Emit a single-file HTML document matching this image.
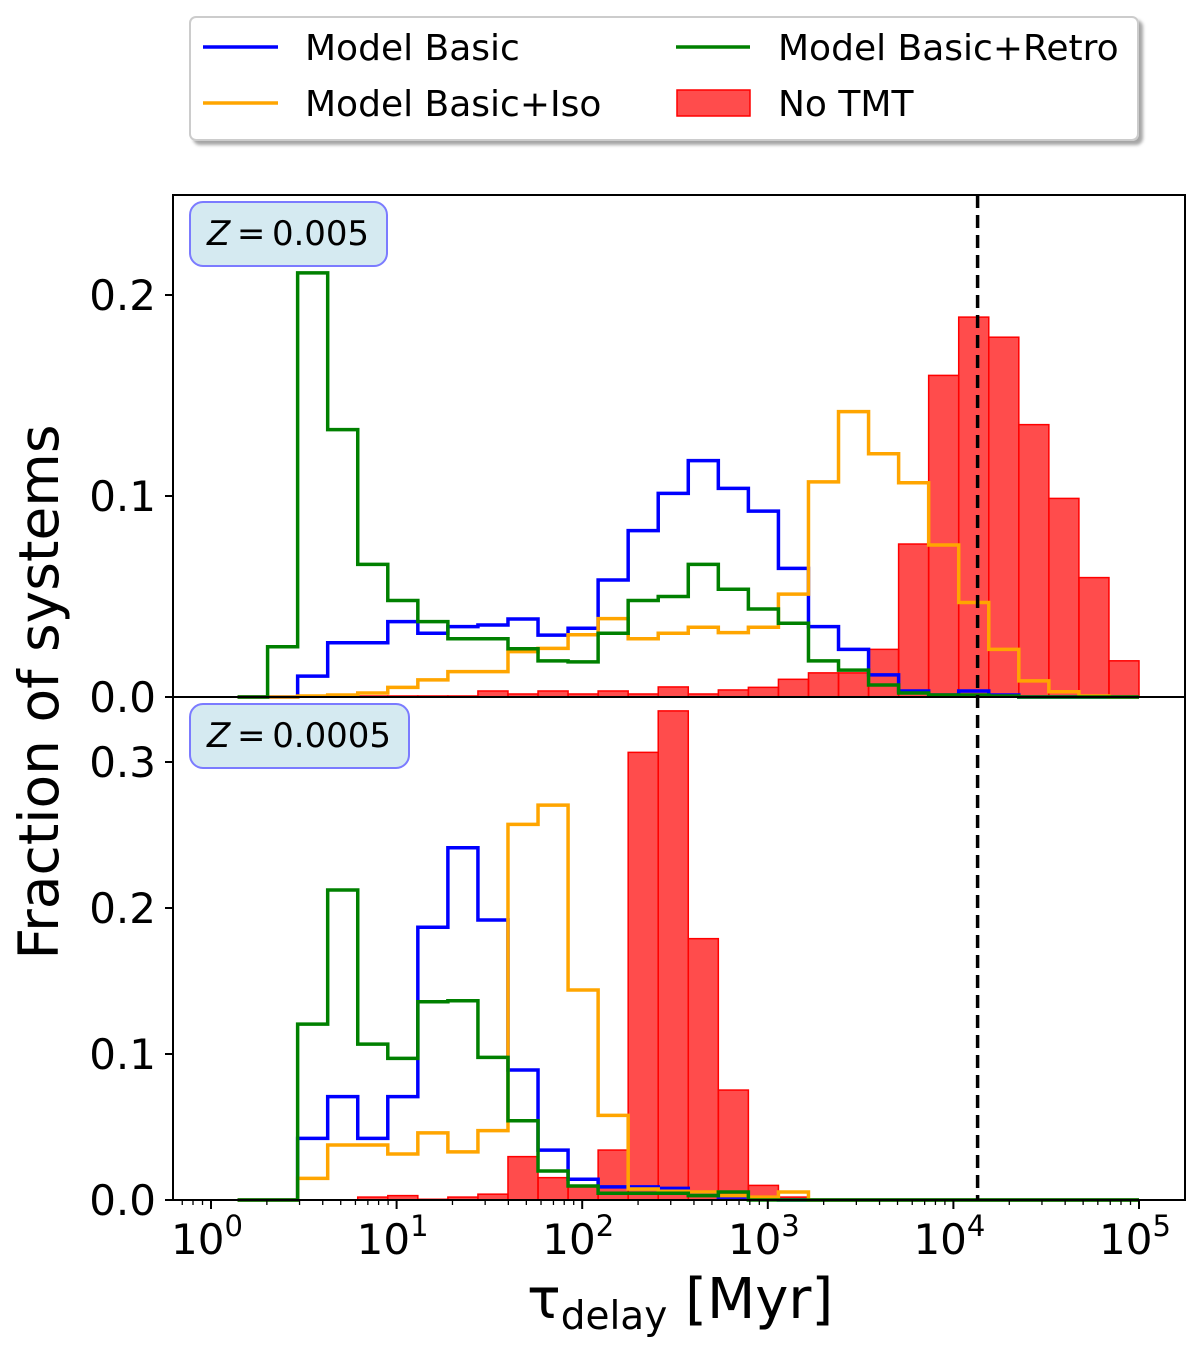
<!DOCTYPE html>
<html><head><meta charset="utf-8"><style>
html,body{margin:0;padding:0;background:#fff;}
svg{display:block;font-family:"DejaVu Sans","Liberation Sans",sans-serif;}
</style></head><body>
<svg id="chart" width="1200" height="1357" viewBox="0 0 1200 1357" xmlns="http://www.w3.org/2000/svg">
<defs><filter id="sh" x="-5%" y="-5%" width="110%" height="120%"><feDropShadow dx="4" dy="4" stdDeviation="1.5" flood-color="#000" flood-opacity="0.35"/></filter></defs>
<g id="legend">
<rect x="190" y="17" width="948" height="123" rx="6" fill="#fff" stroke="#ccc" stroke-width="2" filter="url(#sh)"/>
<g><line x1="203" y1="47" x2="278" y2="47" stroke="#0000ff" stroke-width="3.5"/><text x="305" y="60" font-size="36">Model Basic</text></g>
<g><line x1="203" y1="103" x2="278" y2="103" stroke="#ffa500" stroke-width="3.5"/><text x="305" y="116" font-size="36">Model Basic+Iso</text></g>
<g><line x1="676" y1="47" x2="750" y2="47" stroke="#008000" stroke-width="3.5"/><text x="778" y="60" font-size="36">Model Basic+Retro</text></g>
<g><rect x="677" y="90" width="73" height="26" fill="rgba(255,0,0,0.7)" stroke="#ff0000" stroke-width="1.5"/><text x="778" y="116" font-size="36">No TMT</text></g>
</g>
<g id="plot"></g>
</svg>
<script>
// ---- data (bin index 0..29, log-spaced bins ending at 1e5) ----
const binCount = 30;
const binWidthDex = 0.1619;
const topBlue   = [0,0,0.0104,0.027,0.027,0.0375,0.0317,0.035,0.0358,0.0388,0.0308,0.0342,0.0582,0.0828,0.1013,0.1176,0.1038,0.0925,0.064,0.035,0.0237,0.011,0.003,0.001,0.003,0.001,0,0,0,0];
const topGreen  = [0,0.025,0.211,0.133,0.066,0.048,0.0375,0.029,0.029,0.024,0.018,0.0175,0.0317,0.048,0.050,0.066,0.0536,0.0438,0.0367,0.018,0.0134,0.006,0.002,0.001,0.001,0.0005,0,0,0,0];
const topOrange = [0,0,0.0005,0.001,0.002,0.0048,0.0085,0.0126,0.0126,0.0226,0.0242,0.031,0.039,0.029,0.0317,0.0347,0.032,0.0347,0.0512,0.107,0.142,0.121,0.1066,0.0756,0.047,0.0237,0.008,0.0026,0.0005,0];
const topRed    = [0,0,0.0005,0.0005,0.0005,0.0005,0.0005,0.0005,0.003,0.0015,0.003,0.0015,0.003,0.0015,0.005,0.0015,0.0035,0.0048,0.0088,0.012,0.012,0.0237,0.0761,0.16,0.189,0.179,0.1355,0.0988,0.0594,0.018];
const botBlue   = [0,0,0.0422,0.0708,0.0422,0.0708,0.1868,0.2413,0.1918,0.089,0.0342,0.0142,0.009,0.009,0.008,0.004,0.002,0.001,0,0,0,0,0,0,0,0,0,0,0,0];
const botGreen  = [0,0,0.1205,0.2123,0.1068,0.097,0.1358,0.1365,0.0977,0.0543,0.0199,0.0096,0.0046,0.0046,0.0046,0.003,0.0055,0,0,0,0,0,0,0,0,0,0,0,0,0];
const botOrange = [0,0,0.0148,0.0377,0.0377,0.0315,0.046,0.033,0.0475,0.2573,0.2705,0.1438,0.058,0.0075,0.006,0.0055,0.003,0.002,0.0055,0,0,0,0,0,0,0,0,0,0,0];
const botRed    = [0,0,0,0,0.002,0.003,0.0005,0.002,0.004,0.0297,0.0153,0.009,0.0342,0.3066,0.335,0.179,0.0753,0.01,0.002,0,0,0,0,0,0,0,0,0,0,0];
const xTickExps = [0,1,2,3,4,5];
const topYTicks = [0.0,0.1,0.2];
const botYTicks = [0.0,0.1,0.2,0.3];
const hubbleTimeMyr = 13500;

// ---- axes ----
const NS="http://www.w3.org/2000/svg";
const L=173,R=1185,T1=195,B1=697,T2=697,B2=1200;
const X0=211,DEC=185.6;
function xs(logv){return X0+DEC*logv;}
function yTop(v){return B1-v*2010;}
function yBot(v){return B2-v*1460;}
function edgeLog(k){return 5-binWidthDex*(binCount-k);}
const plot=document.getElementById('plot');
function mk(tag,attrs,parent){const e=document.createElementNS(NS,tag);for(const k in attrs)e.setAttribute(k,attrs[k]);(parent||plot).appendChild(e);return e;}

function drawBars(vals,ys,name){
  const g=mk('g',{});
  
  
  vals.forEach((v,i)=>{ if(v<=0) return;
    const x1=xs(edgeLog(i)),x2=xs(edgeLog(i+1));
    const r=mk('rect',{x:x1,y:ys(v),width:x2-x1,height:ys(0)-ys(v),fill:'rgba(255,0,0,0.7)',stroke:'#ff0000','stroke-width':1.5},g);
    
    
  });
}
function drawStep(vals,ys,color,name){
  let d='M'+xs(edgeLog(0))+','+ys(0);
  vals.forEach((v,i)=>{d+=' L'+xs(edgeLog(i))+','+ys(v)+' L'+xs(edgeLog(i+1))+','+ys(v);});
  d+=' L'+xs(edgeLog(vals.length))+','+ys(0);
  const p=mk('path',{d:d,fill:'none',stroke:color,'stroke-width':3.5,'stroke-linejoin':'miter'});
  
  
}
drawBars(topRed,yTop,'top-no-tmt-bars');
drawStep(topBlue,yTop,'#0000ff','top-basic-line');
drawStep(topOrange,yTop,'#ffa500','top-iso-line');
drawStep(topGreen,yTop,'#008000','top-retro-line');
drawBars(botRed,yBot,'bottom-no-tmt-bars');
drawStep(botBlue,yBot,'#0000ff','bottom-basic-line');
drawStep(botOrange,yBot,'#ffa500','bottom-iso-line');
drawStep(botGreen,yBot,'#008000','bottom-retro-line');

const hl=mk('line',{x1:xs(Math.log10(hubbleTimeMyr)),x2:xs(Math.log10(hubbleTimeMyr)),y1:T1,y2:B2,stroke:'#000','stroke-width':3.5,'stroke-dasharray':'13,7'});



const f1=mk('rect',{x:L,y:T1,width:R-L,height:B1-T1,fill:'none',stroke:'#000','stroke-width':2});


const f2=mk('rect',{x:L,y:T2,width:R-L,height:B2-T2,fill:'none',stroke:'#000','stroke-width':2});



function yTicks(arr,ys,name){
  arr.forEach(v=>{
    mk('line',{x1:L-8,x2:L,y1:ys(v),y2:ys(v),stroke:'#000','stroke-width':2});
    const t=mk('text',{x:L-17,y:ys(v)+15,'text-anchor':'end','font-size':42});
    t.textContent=v.toFixed(1);
    
    
  });
}
yTicks(topYTicks,yTop,'top-y-tick-label');
yTicks(botYTicks,yBot,'bottom-y-tick-label');

for(let e=-1;e<=5;e++){
  for(let m=2;m<=9;m++){
    const lv=e+Math.log10(m); const x=xs(lv);
    if(x<L||x>R) continue;
    mk('line',{x1:x,x2:x,y1:B2,y2:B2+5,stroke:'#000','stroke-width':1.3});
  }
}
xTickExps.forEach(e=>{
  const x=xs(e);
  mk('line',{x1:x,x2:x,y1:B2,y2:B2+9,stroke:'#000','stroke-width':2});
  const t=mk('text',{x:x-4,y:1254,'text-anchor':'middle','font-size':42});
  
  
  t.textContent='10';
  const s=mk('tspan',{'font-size':29,dy:-18});
  s.textContent=String(e);
  t.appendChild(s);
});

function zbox(x,y,w,label,name){
  const g=mk('g',{});
  
  
  mk('rect',{x:x,y:y,width:w,height:64,rx:13,fill:'#d5eaf1',stroke:'#7b7bff','stroke-width':2},g);
  const t=mk('text',{x:x+17,y:y+43,'font-size':34,'textLength':w-35,'lengthAdjust':'spacing'},g);
  const z=mk('tspan',{'font-style':'italic'},t); z.textContent='Z';
  const r=mk('tspan',{},t); r.textContent='\u2009=\u20090.'+label.slice(2);
}
zbox(190,202,197,'0.005','top-metallicity-label');
zbox(190,704,219,'0.0005','bottom-metallicity-label');

const yt=mk('text',{x:0,y:0,'font-size':55,'text-anchor':'middle',transform:'translate(58,692) rotate(-90)'});
yt.textContent='Fraction of systems';


const xt=mk('text',{x:527,y:1318,'font-size':56});


const t1=mk('tspan',{},xt); t1.textContent='τ';
const t2=mk('tspan',{'font-size':39,dy:11}); t2.textContent='delay'; xt.appendChild(t2);
const t3=mk('tspan',{dy:-11}); t3.textContent=' [Myr]'; xt.appendChild(t3);
</script>
</body></html>
